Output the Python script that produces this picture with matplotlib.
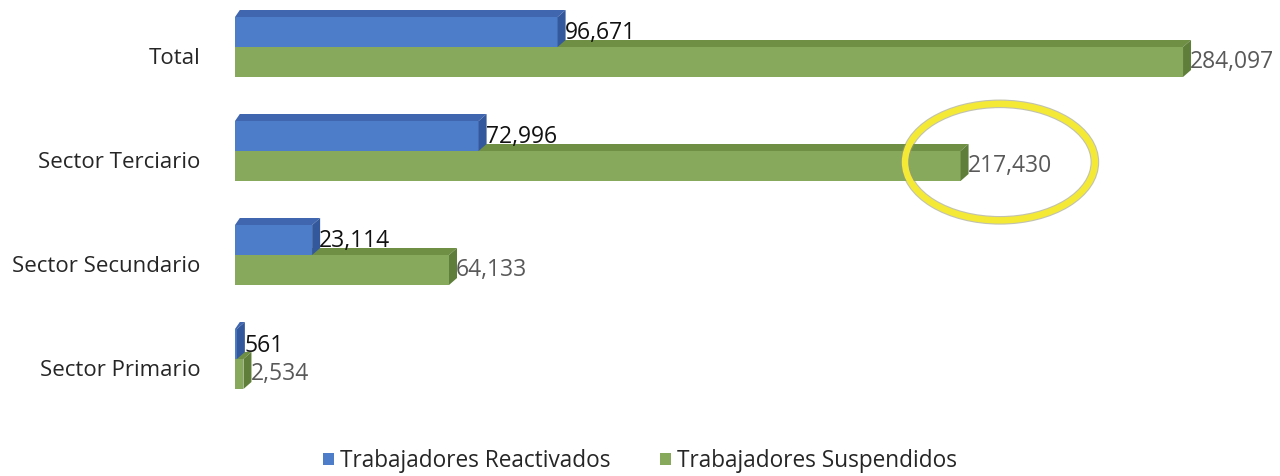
import matplotlib
matplotlib.use("Agg")
import matplotlib.pyplot as plt
from matplotlib.patches import Polygon, Ellipse, Patch
import numpy as np

plt.rcParams['font.family'] = ['Open Sans', 'DejaVu Sans']

categories = ["Total", "Sector Terciario", "Sector Secundario", "Sector Primario"]
reactivados = [96671, 72996, 23114, 561]
suspendidos = [284097, 217430, 64133, 2534]
reactivados_labels = ["96,671", "72,996", "23,114", "561"]
suspendidos_labels = ["284,097", "217,430", "64,133", "2,534"]
series_names = ["Trabajadores Reactivados", "Trabajadores Suspendidos"]

BLUE = "#4d7cc8"
BLUE_TOP = "#3f66ae"
BLUE_SIDE = "#34589c"
GREEN = "#87a95b"
GREEN_TOP = "#6f8f45"
GREEN_SIDE = "#5f7e3a"

fig = plt.figure(figsize=(12.8, 4.76), dpi=100)
ax = fig.add_axes([235 / 1280, 56 / 476, 1045 / 1280, 420 / 476])
xmax = 1045 / 0.003337
ax.set_xlim(0, xmax)
ax.set_ylim(-0.5, 3 + 56 / 104)

pos = np.arange(len(categories))[::-1].astype(float)
off = 9 / 104          # bar group sits slightly above the category label
h = 30 / 104
dx = 8 * xmax / 1045
dy = 7 / 104


def bar3d(y0, w, face, top, side, z):
    ax.barh(y0, w, height=h, align='edge', color=face, zorder=z, linewidth=0)
    ax.add_patch(Polygon([(0, y0 + h), (w, y0 + h), (w + dx, y0 + h + dy), (dx * 0.6, y0 + h + dy)],
                         closed=True, facecolor=top, edgecolor='none', zorder=z))
    ax.add_patch(Polygon([(w, y0), (w + dx, y0 + dy), (w + dx, y0 + h + dy), (w, y0 + h)],
                         closed=True, facecolor=side, edgecolor='none', zorder=z))


for i, p in enumerate(pos):
    c = p + off
    bar3d(c - h, suspendidos[i], GREEN, GREEN_TOP, GREEN_SIDE, 2)
    bar3d(c, reactivados[i], BLUE, BLUE_TOP, BLUE_SIDE, 3)
    ax.text(reactivados[i] + dx * 0.9, c + h * 0.45, reactivados_labels[i], ha='left', va='center',
            fontsize=16.5, color='#111111', zorder=5)
    ax.text(suspendidos[i] + dx * 0.9, c - h * 0.5, suspendidos_labels[i], ha='left', va='center',
            fontsize=16.5, color='#595959', zorder=5)

# highlight ellipse around Sector Terciario suspended value
ell_c = (suspendidos[1] + 11800, pos[1] - 0.02)
ax.add_patch(Ellipse(ell_c, width=56900, height=1.12,
                     facecolor='none', edgecolor='#9a9a7a', linewidth=6.2, zorder=6, alpha=0.6))
ax.add_patch(Ellipse(ell_c, width=56900, height=1.12,
                     facecolor='none', edgecolor='#f4ea36', linewidth=4.6, zorder=7))

ax.set_yticks(pos)
ax.set_yticklabels(categories, fontsize=16, color='#262626')
ax.tick_params(axis='y', length=0, pad=25)
ax.set_xticks([])
for s in ax.spines.values():
    s.set_visible(False)

handles = [Patch(facecolor=BLUE, label=series_names[0]), Patch(facecolor=GREEN, label=series_names[1])]
fig.legend(handles=handles, loc='center', bbox_to_anchor=(640 / 1280, 15 / 476), ncol=2, frameon=False,
           fontsize=16.3, handlelength=0.5, handleheight=0.5, handletextpad=0.25, columnspacing=2.2,
           labelcolor='#262626')

fig.savefig("out.png", dpi=100, facecolor='white')
